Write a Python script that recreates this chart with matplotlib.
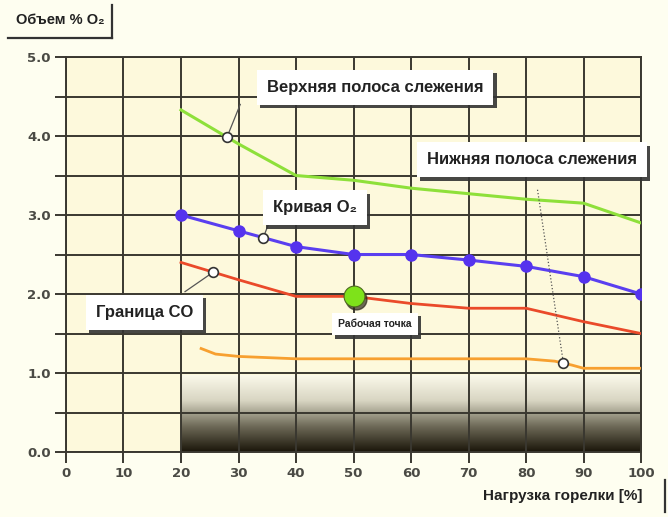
import numpy as np
import matplotlib
matplotlib.use('Agg')
import matplotlib.pyplot as plt
import matplotlib.patheffects as pe
import matplotlib.transforms as mtransforms
from matplotlib.colors import LinearSegmentedColormap

# --- data ---
x_upper = [20, 30, 40, 50, 60, 70, 80, 90, 100]
y_upper = [4.33, 3.9, 3.5, 3.44, 3.34, 3.27, 3.2, 3.15, 2.9]

x_o2 = [20, 30, 40, 50, 60, 70, 80, 90, 100]
y_o2 = [3.0, 2.8, 2.6, 2.5, 2.5, 2.43, 2.35, 2.22, 2.0]

x_co = [20, 30, 40, 50, 60, 70, 80, 90, 100]
y_co = [2.4, 2.18, 1.97, 1.97, 1.88, 1.82, 1.82, 1.65, 1.5]

x_lower = [23.5, 26, 30, 40, 50, 60, 70, 80, 85, 88, 90, 100]
y_lower = [1.31, 1.24, 1.21, 1.18, 1.18, 1.18, 1.18, 1.18, 1.15, 1.1, 1.06, 1.06]

work_x, work_y = 50, 1.97

x_ticks = list(range(0, 101, 10))
y_ticks = [0.0, 0.5, 1.0, 1.5, 2.0, 2.5, 3.0, 3.5, 4.0, 4.5, 5.0]

BG = '#fdf9dc'
GRID = '#3a3830'

fig = plt.figure(figsize=(6.68, 5.17), dpi=100, facecolor='#fefef0')
ax = fig.add_axes([0.0988, 0.1257, 0.8608, 0.764])
ax.set_facecolor(BG)
ax.set_xlim(0, 100)
ax.set_ylim(0, 5)

# dark gradient band at the bottom
cmap = LinearSegmentedColormap.from_list('band', ['#1a1509', '#6e6a58', '#d8d5c2', '#fbf9ea'])
grad = np.linspace(0, 1, 256).reshape(-1, 1)
ax.imshow(grad, extent=[20, 100, 0, 0.97], origin='lower', cmap=cmap,
          aspect='auto', zorder=1)

ax.set_xticks(x_ticks)
ax.set_yticks(y_ticks)
ax.set_xticklabels([str(v) for v in x_ticks])
ax.set_yticklabels(['%.1f' % v if v == int(v) else '' for v in y_ticks])
ax.grid(True, color=GRID, lw=1.4, zorder=2)
ax.set_axisbelow(False)
ax.tick_params(length=8, width=1.4, color=GRID, labelcolor='#4a4a44', labelsize=9.5, pad=3)
for lbl in ax.get_xticklabels() + ax.get_yticklabels():
    lbl.set_fontweight('bold')
for sp in ax.spines.values():
    sp.set_color(GRID)
    sp.set_linewidth(1.4)

# curves
ax.plot(x_upper, y_upper, color='#8ee03a', lw=2.2, zorder=4)
ax.plot(x_o2, y_o2, color='#5a3ff0', lw=2.2, marker='o', ms=8,
        mfc='#5533ee', mec='#5533ee', zorder=5)
ax.plot(x_co, y_co, color='#ea4a2a', lw=2.0, zorder=4)
ax.plot(x_lower, y_lower, color='#f7a030', lw=2.0, zorder=4)

# operating point with a dark shadow
shadow = mtransforms.offset_copy(ax.transData, fig=fig, x=2, y=-2, units='points')
ax.plot(work_x, work_y, 'o', ms=15, color='#2e2a1c', alpha=0.7, transform=shadow, zorder=6)
ax.plot(work_x, work_y, 'o', ms=15, color='#7ee21a', mec='#4f6a20', mew=0.8, zorder=6)


def label(x, y, s, size=12):
    t = ax.text(x, y, s, ha='center', va='center', fontsize=size, fontweight='bold',
                family=['Liberation Sans', 'DejaVu Sans'], color='#222', zorder=8, clip_on=False,
                bbox=dict(boxstyle='square,pad=0.6', fc='white', ec='none'))
    t.get_bbox_patch().set_path_effects(
        [pe.SimplePatchShadow(offset=(2.5, -2.5), shadow_rgbFace='#333', alpha=0.9), pe.Normal()])
    return t


def pointer(px, xs, ys, tx, ty, ls='-'):
    py = np.interp(px, xs, ys)
    ax.plot([tx, px], [ty, py], color='#555', lw=0.9, ls=ls, zorder=7)
    ax.plot(px, py, 'o', ms=7, mfc='white', mec='#333', mew=1.2, zorder=9)


label(53.7, 4.62, 'Верхняя полоса слежения')
pointer(28, x_upper, y_upper, 30.3, 4.4)

label(81, 3.70, 'Нижняя полоса слежения')
pointer(86.5, x_lower, y_lower, 82.0, 3.32, ls=':')

label(43.3, 3.09, 'Кривая O₂')
pointer(34.3, x_o2, y_o2, 35.2, 2.88)

label(13.6, 1.77, 'Граница CO')
pointer(25.6, x_co, y_co, 20.7, 2.03)

label(53.7, 1.62, 'Рабочая точка', size=7.5)

# axis titles in boxes
fig.text(0.09, 0.961, 'Объем % O₂', ha='center', va='center', fontsize=10.5, fontweight='bold',
         family=['Liberation Sans', 'DejaVu Sans'], color='#222')
fig.add_artist(plt.Line2D([0.012, 0.168], [0.927, 0.927], color='#333', lw=1.6))
fig.add_artist(plt.Line2D([0.168, 0.168], [0.927, 0.99], color='#333', lw=1.6))

fig.text(0.843, 0.04, 'Нагрузка горелки [%]', ha='center', va='center', fontsize=11, fontweight='bold',
         family=['Liberation Sans', 'DejaVu Sans'], color='#222')
fig.add_artist(plt.Line2D([0.995, 0.995], [0.01, 0.072], color='#333', lw=1.6))

fig.savefig('out.png', dpi=100, facecolor=fig.get_facecolor())
